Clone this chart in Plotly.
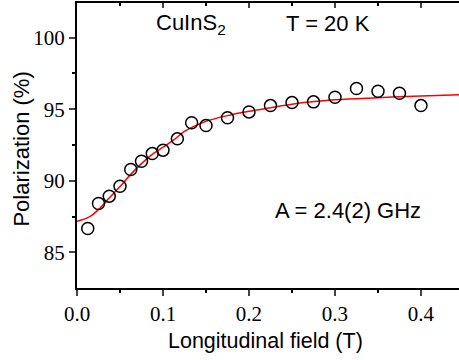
import plotly.graph_objects as go

# Measured data
field_T = [0.0125, 0.025, 0.0375, 0.05, 0.0625, 0.075, 0.0875, 0.1, 0.1167,
           0.1333, 0.15, 0.175, 0.2, 0.225, 0.25, 0.275, 0.3, 0.325, 0.35, 0.375, 0.4]
polarization = [86.67, 88.42, 88.93, 89.62, 90.79, 91.37, 91.90, 92.14, 92.93,
                94.05, 93.86, 94.40, 94.81, 95.25, 95.46, 95.51, 95.83, 96.44, 96.25, 96.11, 95.25]

# Fit curve
fit_x = [0, 0.015, 0.025, 0.0375, 0.05, 0.0625, 0.075, 0.0875, 0.1, 0.1125, 0.125,
         0.15, 0.175, 0.2, 0.225, 0.25, 0.3, 0.35, 0.4, 0.445]
fit_y = [87.18, 87.5, 88.0, 88.8, 89.6, 90.45, 91.2, 91.85, 92.35, 92.85, 93.45,
         94.15, 94.55, 94.85, 95.1, 95.35, 95.65, 95.8, 95.92, 96.0]

x_ticks = [0.0, 0.1, 0.2, 0.3, 0.4]
y_ticks = [85, 90, 95, 100]

fig = go.Figure()
fig.add_trace(go.Scatter(x=fit_x, y=fit_y, mode="lines",
                         line=dict(color="#ff0000", width=1.5, shape="spline"),
                         showlegend=False, hoverinfo="skip"))
fig.add_trace(go.Scatter(x=field_T, y=polarization, mode="markers",
                         marker=dict(symbol="circle-open", size=12, color="black",
                                     line=dict(width=1.5, color="black")),
                         showlegend=False))

xr = [0, 0.4442]
yr = [82.52, 102.41]
tickfont = dict(family="Times New Roman, Liberation Serif, serif", size=21, color="black")

fig.update_layout(
    width=459, height=360,
    margin=dict(l=77, r=0, t=3, b=72),
    plot_bgcolor="white", paper_bgcolor="white",
    xaxis=dict(range=xr, tickvals=x_ticks, tickformat=".1f", ticks="outside",
               ticklen=6, tickwidth=1.5, showline=True, linecolor="black", linewidth=2,
               showgrid=False, zeroline=False, tickfont=tickfont,
               minor=dict(ticks="outside", ticklen=3, dtick=0.05, tick0=0, tickcolor="black", showgrid=False)),
    xaxis2=dict(range=xr, overlaying="x", side="top", tickvals=x_ticks, ticks="inside",
                ticklen=5, tickwidth=1.5, showticklabels=False, showline=True,
                linecolor="black", linewidth=2, showgrid=False, zeroline=False,
                minor=dict(ticks="inside", ticklen=3, dtick=0.05, tick0=0, tickcolor="black", showgrid=False)),
    yaxis=dict(range=yr, tickvals=y_ticks, ticks="outside", ticklen=6, tickwidth=1.5,
               showline=True, linecolor="black", linewidth=2, showgrid=False,
               zeroline=False, tickfont=tickfont,
               minor=dict(ticks="outside", ticklen=3, dtick=2.5, tick0=0, tickcolor="black", showgrid=False)),
)
fig.add_trace(go.Scatter(x=[None], y=[None], xaxis="x2", showlegend=False))

sans = "Arial, Liberation Sans, sans-serif"
# axis titles
fig.add_annotation(x=0.2194, y=-0.186, xref="x", yref="paper", text="Longitudinal field (T)",
                   showarrow=False, font=dict(family=sans, size=21.5, color="black"),
                   xanchor="center", yanchor="middle")
fig.add_annotation(x=-0.144, y=92.25, xref="paper", yref="y", text="Polarization (%)",
                   showarrow=False, textangle=-90, font=dict(family=sans, size=22, color="black"),
                   xanchor="center", yanchor="middle")

ann_font = dict(family=sans, size=22, color="black")
fig.add_annotation(x=0.0895, y=100.91, xref="x", yref="y", text="CuInS<sub>2</sub>",
                   showarrow=False, font=ann_font, xanchor="left", yanchor="middle")
fig.add_annotation(x=0.2919, y=101.01, xref="x", yref="y", text="T = 20 K",
                   showarrow=False, font=ann_font, xanchor="center", yanchor="middle")
fig.add_annotation(x=0.4023, y=87.93, xref="x", yref="y", text="A = 2.4(2) GHz",
                   showarrow=False, font=ann_font, xanchor="right", yanchor="middle")

fig.write_html("out.html", config={"displayModeBar": False},
               post_script="document.body.style.margin='0';document.body.style.overflow='hidden';")
